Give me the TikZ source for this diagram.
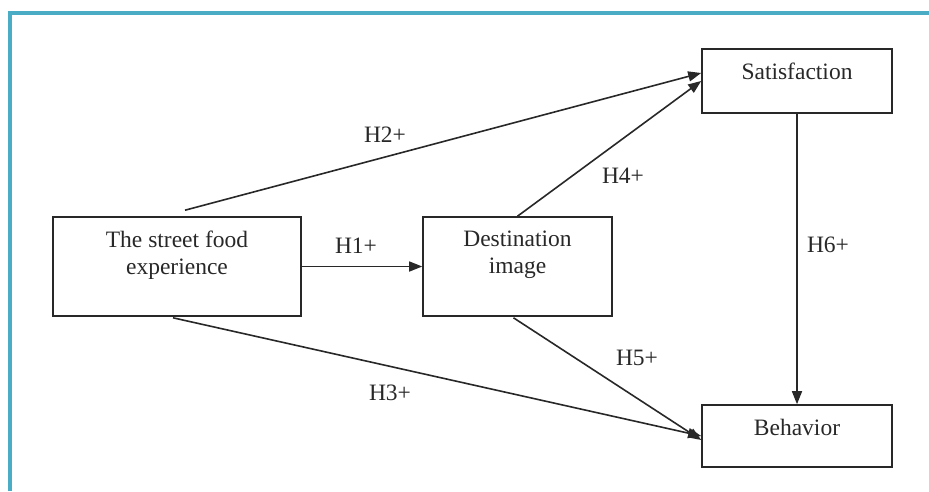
\documentclass[tikz,border=0pt]{standalone}
\usepackage{fontspec}
\setmainfont{Liberation Serif}
\usetikzlibrary{positioning,arrows.meta}
\definecolor{frameBlue}{RGB}{75,172,198}
\definecolor{lineGray}{RGB}{40,40,40}

\begin{document}
\begin{tikzpicture}
[x=1pt,y=-1pt,
  boxDecorate/.style={draw=lineGray,line width=1.6pt,inner sep=0pt},
  textDecorate/.style={align=center,inner sep=0pt,text=lineGray},
  labelDecorate/.style={inner sep=0pt,text=lineGray},
  arrowDecorate/.style={-{Triangle[length=13pt,width=10pt]},line width=1.6pt,draw=lineGray},
  frameLine/.style={line width=4pt,draw=frameBlue}]
\fontsize{23.5}{27}\selectfont
\useasboundingbox (0,0) rectangle (929,491);
\draw[frameLine] (10,491) -- (10,13) -- (929,13);
%% boxes
\foreach \nodename/\x/\y/\w/\h in {
  food/177/266.5/248/99,
  image/517.5/266.5/189/99,
  satis/797/81/190/64,
  behav/797/436/190/62}
{
  \node (\nodename) at (\x,\y) [boxDecorate,minimum width=\w pt,minimum height=\h pt] {};
}
%% box texts
\node (foodText) [textDecorate,below=15pt of food.north] {The street food\\experience};
\node (imageText) [textDecorate,below=15pt of image.north] {Destination\\image};
\node (satisText) [textDecorate,below=15pt of satis.north] {Satisfaction};
\node (behavText) [textDecorate,below=15pt of behav.north] {Behavior};
%% hypothesis labels
\foreach \nodename/\x/\y/\txt in {
  h1/356/246/H1+,
  h2/385/135/H2+,
  h3/390/393/H3+,
  h4/623/176/H4+,
  h5/637/358/H5+,
  h6/828/245/H6+}
{
  \node (\nodename) at (\x,\y) [labelDecorate] {\txt};
}
%% arrow ends
\coordinate (h2Start) at ([xshift=8pt,yshift=6pt]food.north);
\coordinate (h2End) at ([yshift=8pt]satis.west);
\coordinate (h3Start) at ([xshift=-4pt,yshift=-1pt]food.south);
\coordinate (h5Start) at ([xshift=-4pt,yshift=-1pt]image.south);
\coordinate (h5End) at ([yshift=-4pt]behav.west);
%% arrows
\path
\foreach \startnode/\endnode in {
  food.east/image.west, h2Start/h2End, h3Start/behav.west,
  image.north/satis.west, h5Start/h5End, satis.south/behav.north}
{
  (\startnode) edge[arrowDecorate] (\endnode)
};
\end{tikzpicture}
\end{document}
